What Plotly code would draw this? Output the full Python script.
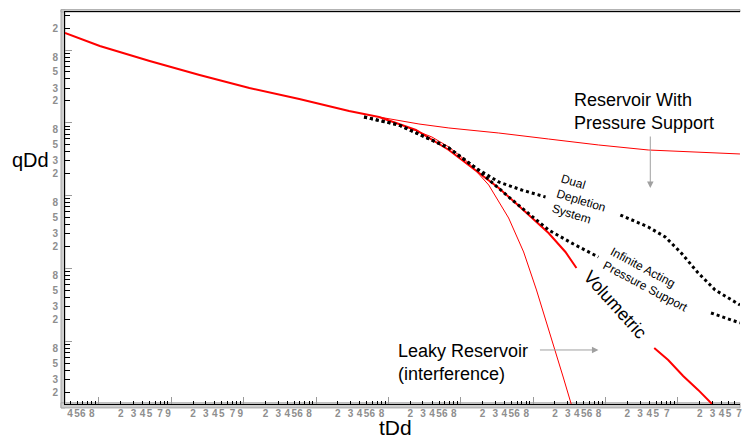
import math
import plotly.graph_objects as go

# ---------------- data ----------------
main_t = [3.40e-5, 1.03e-4, 5.03e-4, 2.46e-3, 0.0120, 0.0587, 0.286, 0.742]
main_q = [1.712, 1.135, 0.706, 0.4535, 0.3006, 0.2123, 0.145, 0.120]

pressure_t = [0.742, 2.64, 6.84, 33.4, 163, 796, 3890, 1.90e4, 7.19e4]
pressure_q = [0.120, 0.0963, 0.0849, 0.0724, 0.0599, 0.0496, 0.0423, 0.0397, 0.0373]

leaky_t = [0.742, 1.40, 3.99, 6.84, 12.9, 24.3, 45.8, 73.8, 111, 153, 204, 262, 338, 372]
leaky_q = [0.120, 0.0963, 0.0638, 0.0465, 0.0280, 0.01398, 0.00492, 0.00168,
           5.05e-4, 1.835e-4, 7.11e-5, 3.12e-5, 1.33e-5, 9.7e-6]

vol_t = [0.742, 1.194, 2.40, 6.84, 19.5, 33.4, 57.2, 163, 279, 396,
         None, 4700, 7330, 1.18e4, 1.90e4, 3.05e4, 3.58e4]
vol_q = [0.120, 0.1026, 0.0796, 0.0423, 0.0192, 0.01272, 0.00791, 0.00306, 0.00168, 0.001013,
         None, 8.07e-5, 5.52e-5, 3.33e-5, 2.14e-5, 1.33e-5, 1.135e-5]

inf_t = [0.461, 1.40, 6.84, 16.1, 45.8, 163, 360, 796, None, 2.86e4, 7.19e4]
inf_q = [0.120, 0.0933, 0.0451, 0.0239, 0.00957, 0.00337, 0.00216, 0.001434, None, 2.44e-4, 1.78e-4]

dual_t = [0.461, 1.40, 6.84, 16.1, 33.4, 69.2, 148,
          None, 1600, 3890, 6670, 1.11e4, 1.90e4, 3.26e4, 6.14e4, 7.19e4]
dual_q = [0.120, 0.0933, 0.0451, 0.0239, 0.01538, 0.01194, 0.00957,
          None, 0.00541, 0.00370, 0.0027, 0.00163, 8.65e-4, 5.05e-4, 3.455e-4, 3.14e-4]

# tick labels: per decade, which mantissa digits carry a label
x_decades = [-5, -4, -3, -2, -1, 0, 1, 2, 3, 4]
x_label_digits = [[4, 5, 6, 8], [2, 3, 4, 5, 7, 9], [2, 3, 4, 5, 7, 9],
                  [2, 3, 4, 5, 6, 8], [2, 3, 4, 5, 6, 8], [2, 3, 4, 5, 6, 8],
                  [2, 3, 4, 5, 6, 8], [2, 3, 4, 5, 6, 8], [2, 3, 4, 5, 7], [2, 3, 4, 5, 7]]
y_decades = [-5, -4, -3, -2, -1, 0]
y_label_digits = [[2, 3, 5, 8], [2, 3, 5, 8], [2, 3, 5, 8], [2, 3, 5, 8], [2, 3, 5, 8], [2]]

X_RANGE = [-4.468, 4.857]
Y_RANGE = [-4.863, 0.522]


def build_ticks(decades, digits, lo, hi):
    vals, texts, majors = [], [], []
    for d, labs in zip(decades, digits):
        dec = 10.0 ** d
        if lo <= d <= hi:
            majors.append(dec)
        for m in range(2, 10):
            v = m * dec
            if lo <= math.log10(v) <= hi:
                vals.append(v)
                texts.append(str(m) if m in labs else "")
    return vals, texts, majors


xv, xt, xmaj = build_ticks(x_decades, x_label_digits, *X_RANGE)
yv, yt, ymaj = build_ticks(y_decades, y_label_digits, *Y_RANGE)

FONT = "Arial, Liberation Sans, sans-serif"

fig = go.Figure()
fig.add_trace(go.Scatter(x=main_t, y=main_q, mode="lines", line=dict(color="#ff0000", width=2)))
fig.add_trace(go.Scatter(x=pressure_t, y=pressure_q, mode="lines", line=dict(color="#ff0000", width=1)))
fig.add_trace(go.Scatter(x=leaky_t, y=leaky_q, mode="lines", line=dict(color="#ff0000", width=1)))
fig.add_trace(go.Scatter(x=vol_t, y=vol_q, mode="lines", line=dict(color="#ff0000", width=2)))
fig.add_trace(go.Scatter(x=dual_t, y=dual_q, mode="lines",
                         line=dict(color="black", width=3, dash="dot")))
fig.add_trace(go.Scatter(x=inf_t, y=inf_q, mode="lines",
                         line=dict(color="black", width=3, dash="dot")))

tickfont = dict(family=FONT, size=10, color="#8e8e8e", weight="bold")

fig.update_xaxes(type="log", range=X_RANGE, showgrid=False, zeroline=False,
                 showline=True, linecolor="black", linewidth=1, mirror=True,
                 tickmode="array", tickvals=xv, ticktext=xt, ticks="inside",
                 ticklen=3, tickcolor="black", tickwidth=1, tickangle=0,
                 tickfont=tickfont, ticklabeloverflow="allow",
                 minor=dict(tickmode="array", tickvals=xmaj, ticks="inside",
                            ticklen=7, tickcolor="#9a9a9a", tickwidth=1, showgrid=False))
fig.update_yaxes(type="log", range=Y_RANGE, showgrid=False, zeroline=False,
                 showline=True, linecolor="black", linewidth=1,
                 tickmode="array", tickvals=yv, ticktext=yt, ticks="inside",
                 ticklen=5, tickcolor="black", tickwidth=1,
                 tickfont=tickfont, ticklabelstandoff=4,
                 minor=dict(tickmode="array", tickvals=ymaj, ticks="inside",
                            ticklen=7, tickcolor="#9a9a9a", tickwidth=1, showgrid=False))

band = dict(type="rect", xref="paper", yref="paper", layer="below",
            fillcolor="#cfcfcf", line=dict(color="#a8a8a8", width=1))
fig.add_shape(**band, x0=-0.0059, x1=0.0, y0=-0.010, y1=1.006)   # left band
fig.add_shape(**band, x0=-0.0059, x1=1.0, y0=1.0, y1=1.006)      # top band
fig.add_shape(**band, x0=-0.0059, x1=1.0, y0=-0.010, y1=0.003)   # bottom band

ann = []
big = dict(family=FONT, size=18, color="black")
small = dict(family=FONT, size=12, color="black")
ann.append(dict(text="Reservoir With<br>Pressure Support", x=0.7504, y=0.7474,
                xanchor="left", yanchor="middle", align="left", font=big, showarrow=False))
ann.append(dict(text="Leaky Reservoir<br>(interference)", x=0.4904, y=0.1046,
                xanchor="left", yanchor="middle", align="left", font=big, showarrow=False))
ann.append(dict(text="Dual<br>Depletion<br>System", x=0.7651, y=0.5204, textangle=17,
                xanchor="center", yanchor="middle", align="left", font=small, showarrow=False))
ann.append(dict(text="Infinite Acting<br>Pressure Support", x=0.8656, y=0.3163, textangle=28,
                xanchor="center", yanchor="middle", align="left", font=small, showarrow=False))
ann.append(dict(text="Volumetric", x=0.8154, y=0.2526, textangle=48,
                xanchor="center", yanchor="middle", font=big, showarrow=False))
ann.append(dict(text="qDd", x=-0.0517, y=0.6224, xanchor="center", yanchor="middle",
                font=dict(family=FONT, size=20, color="black"), showarrow=False))
ann.append(dict(text="tDd", x=0.4889, y=-0.0612, xanchor="center", yanchor="middle",
                font=dict(family=FONT, size=21, color="black"), showarrow=False))
# arrows
ann.append(dict(text="", x=0.8671, y=0.551, ax=0, ay=-53, showarrow=True,
                arrowhead=2, arrowsize=1.3, arrowwidth=1, arrowcolor="#a0a0a0"))
ann.append(dict(text="", x=0.7903, y=0.1378, ax=-60, ay=0, showarrow=True,
                arrowhead=2, arrowsize=1.3, arrowwidth=1, arrowcolor="#a0a0a0"))
for a in ann:
    a.setdefault("xref", "paper")
    a.setdefault("yref", "paper")

fig.update_layout(width=742, height=438, margin=dict(l=65, r=0, t=12, b=34),
                  paper_bgcolor="white", plot_bgcolor="white", showlegend=False,
                  annotations=ann)

fig.write_html("out.html", config={"displayModeBar": False},
               post_script="document.body.style.margin='0';document.body.style.overflow='hidden';")
